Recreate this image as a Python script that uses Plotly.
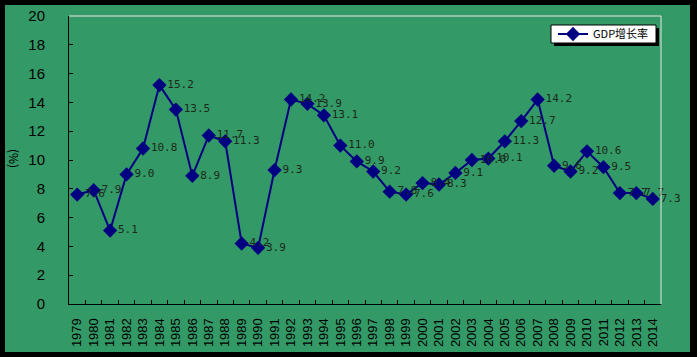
import plotly.graph_objects as go

years = [str(y) for y in range(1979, 2015)]
gdp_growth = [7.6, 7.9, 5.1, 9.0, 10.8, 15.2, 13.5, 8.9, 11.7, 11.3, 4.2, 3.9,
              9.3, 14.2, 13.9, 13.1, 11.0, 9.9, 9.2, 7.8, 7.6, 8.4, 8.3, 9.1,
              10.0, 10.1, 11.3, 12.7, 14.2, 9.6, 9.2, 10.6, 9.5, 7.7, 7.7, 7.3]
y_ticks = [0, 2, 4, 6, 8, 10, 12, 14, 16, 18, 20]
series_name = "GDP增长率"

W, H = 697, 357
L, R, T, B = 69, 36, 16, 53
pw, ph = W - L - R, H - T - B

def px(x):
    return (x - L) / pw

def py(y):
    return (H - B - y) / ph

fig = go.Figure()
fig.add_trace(go.Scatter(
    x=years, y=gdp_growth, name=series_name,
    mode="lines+markers+text",
    line=dict(color="#000080", width=2),
    marker=dict(symbol="diamond", size=11, color="#000080"),
    text=[f"{v:.1f}" for v in gdp_growth],
    textposition="middle right",
    textfont=dict(family="DejaVu Sans Mono", size=11, color="#1a2a1a"),
    cliponaxis=False,
))

fig.update_layout(
    width=W, height=H,
    margin=dict(l=L, r=R, t=T, b=B, pad=0, autoexpand=False),
    paper_bgcolor="black",
    plot_bgcolor="rgba(0,0,0,0)",
    showlegend=True,
    legend=dict(x=px(553), y=py(34), xanchor="left", yanchor="middle",
                bgcolor="rgba(0,0,0,0)", borderwidth=0,
                font=dict(family="Noto Sans CJK SC", size=11, color="black"),
                itemwidth=30, tracegroupgap=0),
    shapes=[
        dict(type="rect", xref="paper", yref="paper", layer="below",
             x0=px(5), x1=px(690), y0=py(352), y1=py(5),
             fillcolor="#339966", line=dict(width=0)),
        dict(type="line", xref="paper", yref="paper",
             x0=0, x1=1, y0=1, y1=1, line=dict(color="#e8e8e8", width=1)),
        dict(type="line", xref="paper", yref="paper",
             x0=1, x1=1, y0=0, y1=1, line=dict(color="#e8e8e8", width=1)),
        # legend shadow and box
        dict(type="rect", xref="paper", yref="paper", layer="above",
             x0=px(554), x1=px(659), y0=py(46), y1=py(28),
             fillcolor="black", line=dict(width=0)),
        dict(type="rect", xref="paper", yref="paper", layer="above",
             x0=px(551), x1=px(656), y0=py(43), y1=py(25),
             fillcolor="white", line=dict(color="black", width=1)),
    ],
    annotations=[
        dict(text="(%)", xref="paper", yref="paper", x=px(15), y=py(158),
             xanchor="center", yanchor="middle",
             showarrow=False, textangle=90,
             font=dict(family="Noto Sans CJK SC", size=12, color="black")),
    ],
)

fig.update_xaxes(
    type="category", range=[-0.5, len(years) - 0.5], automargin=False,
    tickson="boundaries", ticks="inside", ticklen=4,
    tickcolor="black", showline=True, linecolor="black", linewidth=1,
    tickangle=-90, tickfont=dict(family="Liberation Sans", size=13, color="black"),
    showgrid=False, zeroline=False, ticklabelstandoff=8,
)
fig.update_yaxes(
    range=[0, 20], tickvals=y_ticks, ticks="inside", ticklen=4, automargin=False,
    tickcolor="black", showline=True, linecolor="black", linewidth=1,
    tickfont=dict(family="Liberation Sans", size=15, color="black"),
    showgrid=False, zeroline=False, ticklabelstandoff=20,
)

fig.write_html("out.html", config={"displayModeBar": False},
               post_script="document.body.style.margin='0';document.body.style.overflow='hidden';")
